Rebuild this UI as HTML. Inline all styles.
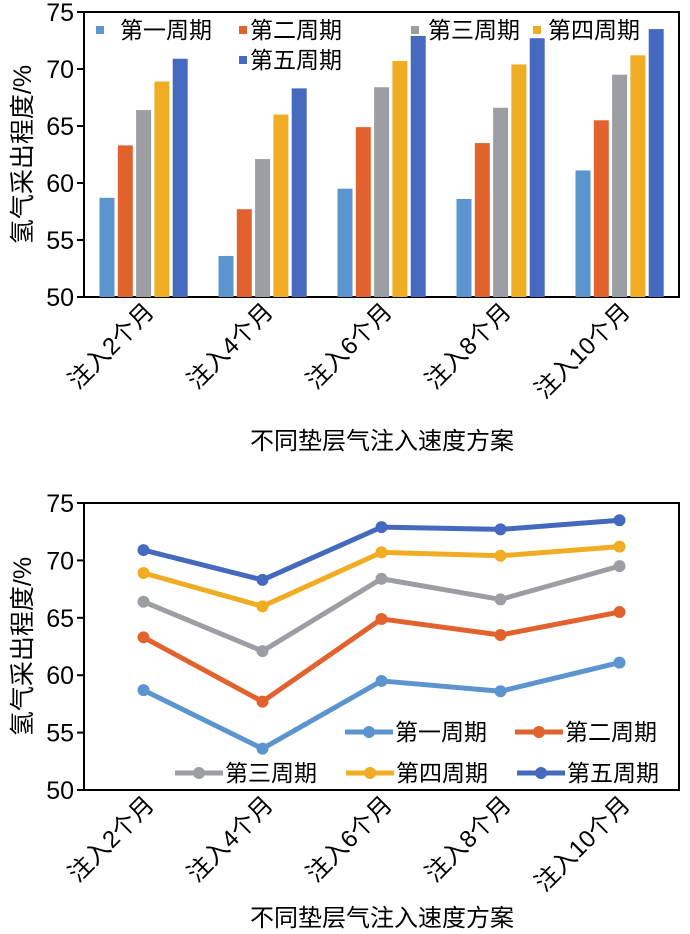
<!DOCTYPE html>
<html><head><meta charset="utf-8"><style>
body{margin:0;background:#fff}
svg{display:block;font-family:"Liberation Sans","Noto Sans CJK SC",sans-serif}
</style></head><body>
<svg id="s" width="690" height="934"></svg>
<script>
const categories=["注入2个月","注入4个月","注入6个月","注入8个月","注入10个月"];
const seriesNames=["第一周期","第二周期","第三周期","第四周期","第五周期"];
const s1=[58.7,53.6,59.5,58.6,61.1];
const s2=[63.3,57.7,64.9,63.5,65.5];
const s3=[66.4,62.1,68.4,66.6,69.5];
const s4=[68.9,66.0,70.7,70.4,71.2];
const s5=[70.9,68.3,72.9,72.7,73.5];
const yTicks=[50,55,60,65,70,75];
const colors=["#5b94cf","#e2622e","#9c9ea3","#f0ac22","#4469be"];
const series=[s1,s2,s3,s4,s5];
const NS="http://www.w3.org/2000/svg";
const svg=document.getElementById('s');
function mk(t,a,p){const e=document.createElementNS(NS,t);for(const k in a)e.setAttribute(k,a[k]);(p||svg).appendChild(e);return e;}
const X0=84,X1=679,step=(X1-X0)/categories.length;
const cx=i=>X0+step*(i+0.5);
function drawAxes(top,bot,titleY){
  const y=v=>bot-(v-50)/25*(bot-top);
  mk('rect',{x:X0,y:top,width:X1-X0,height:bot-top,fill:'none',stroke:'#000','stroke-width':2});
  yTicks.forEach(t=>{
    const l=mk('line',{x1:X0-7,x2:X0,y1:y(t),y2:y(t),stroke:'#000','stroke-width':2});
    
    
    const tx=mk('text',{x:X0-10,y:y(t)+9,'text-anchor':'end','font-size':25,fill:'#000'});
    tx.textContent=t;
    
    
  });
  categories.forEach((c,i)=>{
    const tx=mk('text',{x:cx(i)+12,y:bot+16,'text-anchor':'end','font-size':24,transform:`rotate(-45 ${cx(i)+12} ${bot+16})`});
    tx.textContent=c;
    
    
  });
  const yt=mk('text',{x:0,y:0,'text-anchor':'middle','font-size':25,transform:`translate(31 ${(top+bot)/2}) rotate(-90)`});
  yt.textContent="氢气采出程度/%";
  
  
  const xt=mk('text',{x:382,y:titleY,'text-anchor':'middle','font-size':24});
  xt.textContent="不同垫层气注入速度方案";
  
  
  return y;
}
const yA=drawAxes(12,297,449);
const bw=15,bg=3.3;
series.forEach((ser,k)=>{
  ser.forEach((v,i)=>{
    const x=cx(i)-44+k*(bw+bg);
    const r=mk('rect',{x:x,y:yA(v),width:bw,height:297-yA(v),fill:colors[k]});
    
    
  });
});
const legA=[[100,30],[243,30],[415,30],[537,30],[243,60]];
const legTA=[120,250,428,548,250];
seriesNames.forEach((n,k)=>{
  mk('rect',{x:legA[k][0]-4,y:legA[k][1]-4,width:8,height:8,fill:colors[k]});
  const t=mk('text',{x:legTA[k],y:legA[k][1]+8,'font-size':23});
  t.textContent=n;
  
  
});
const yB=drawAxes(503,790,926);
series.forEach((ser,k)=>{
  const p=mk('polyline',{points:ser.map((v,i)=>cx(i)+','+yB(v)).join(' '),fill:'none',stroke:colors[k],'stroke-width':5,'stroke-linejoin':'round'});
  
  
  ser.forEach((v,i)=>{
    const c=mk('circle',{cx:cx(i),cy:yB(v),r:6,fill:colors[k]});
    
    
  });
});
const legB=[[345,732],[515,732],[175,773],[346,773],[517,773]];
seriesNames.forEach((n,k)=>{
  const [x,y]=legB[k];
  mk('line',{x1:x,x2:x+48,y1:y,y2:y,stroke:colors[k],'stroke-width':5});
  mk('circle',{cx:x+24,cy:y,r:6,fill:colors[k]});
  const t=mk('text',{x:x+50,y:y+8,'font-size':23});
  t.textContent=n;
  
  
});
</script>
</body></html>
